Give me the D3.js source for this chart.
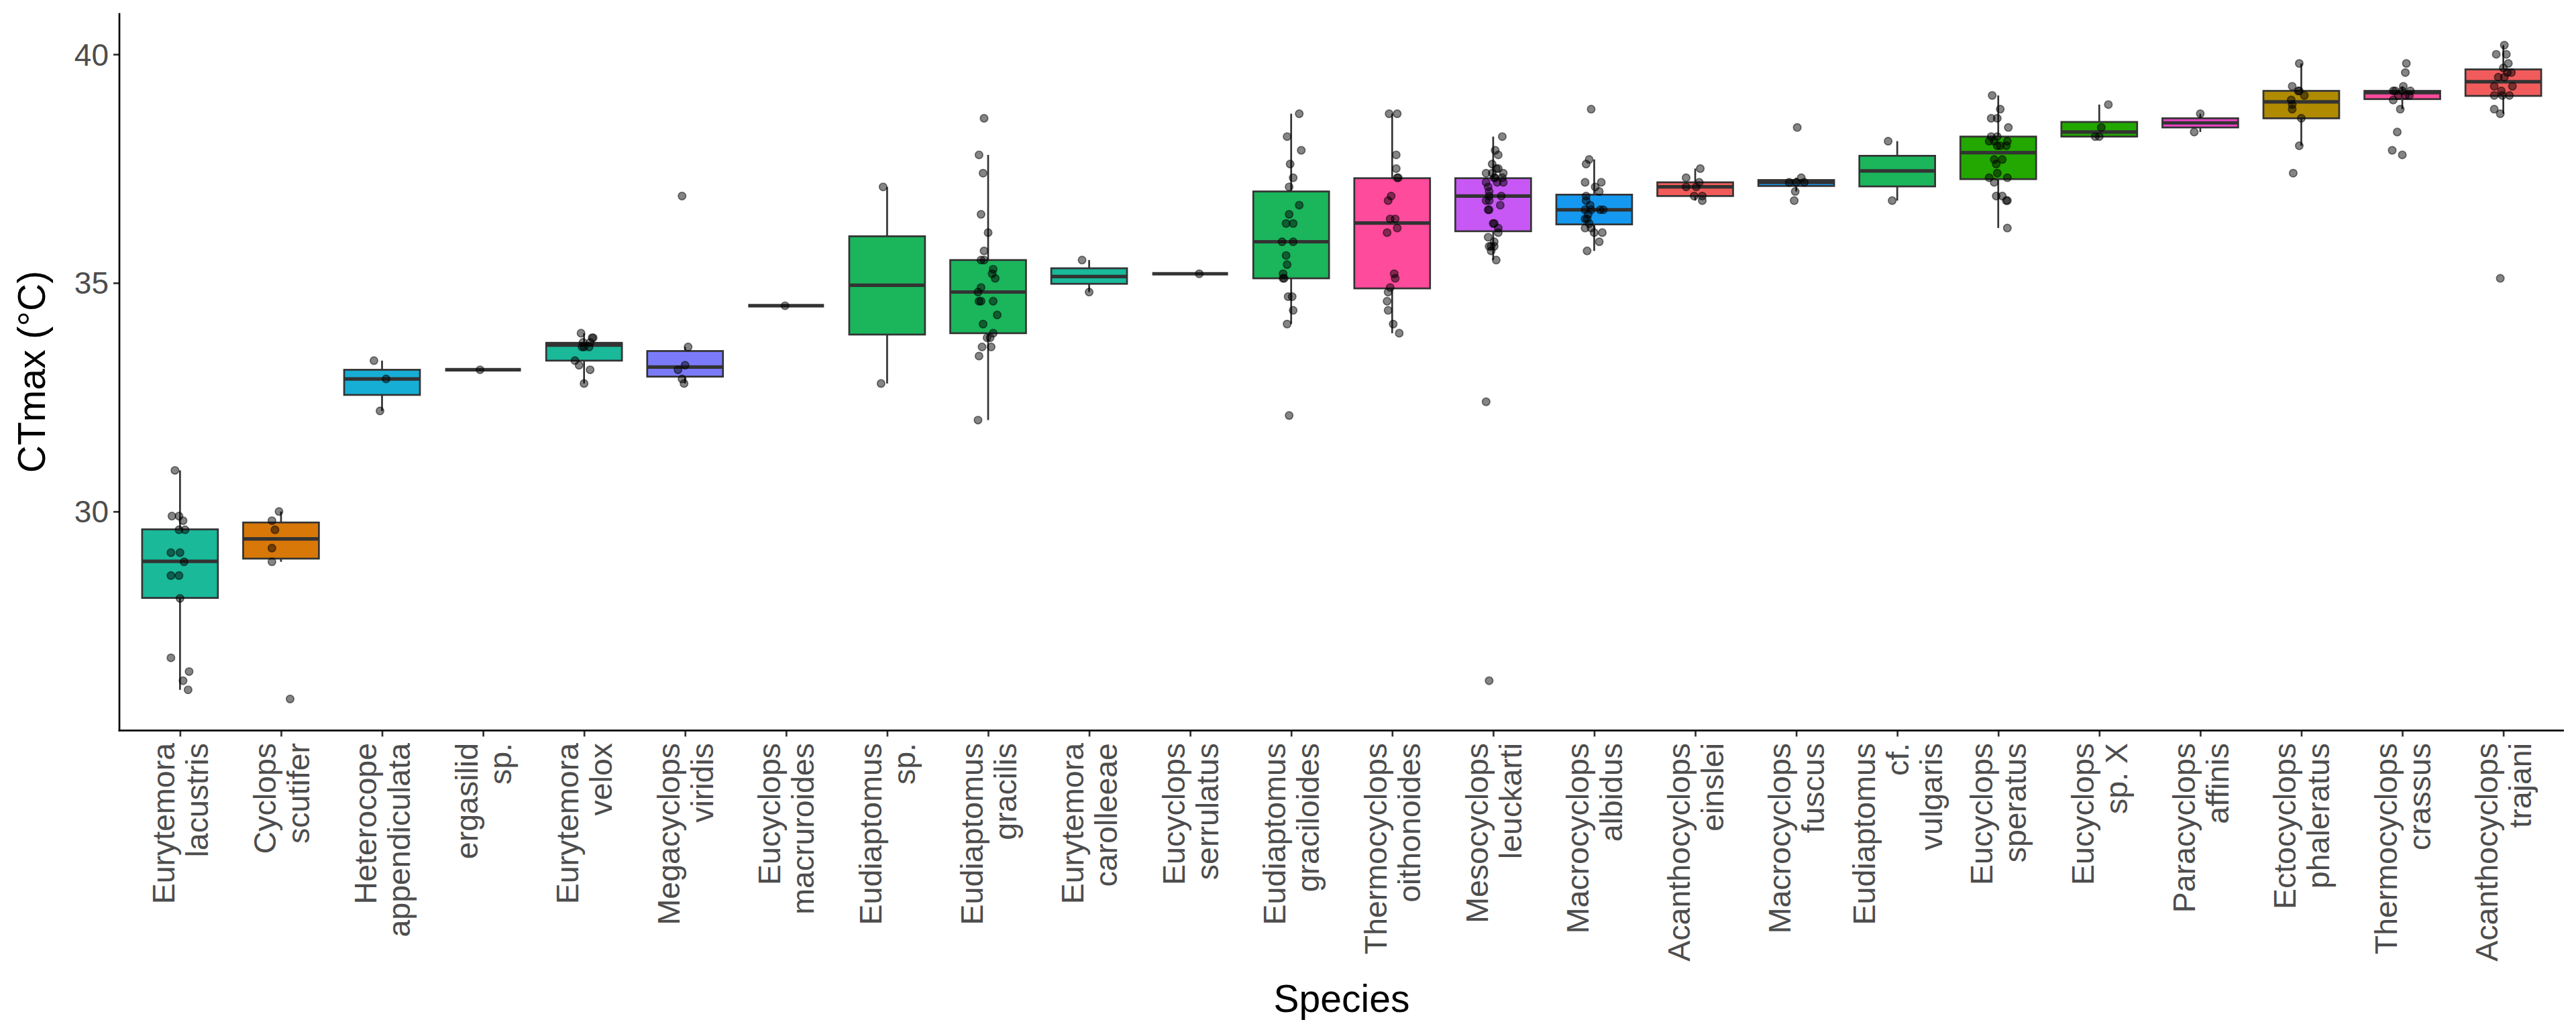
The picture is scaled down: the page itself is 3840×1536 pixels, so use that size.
<!DOCTYPE html>
<html><head><meta charset="utf-8">
<script src="https://cdn.jsdelivr.net/npm/d3@7"></script>
<style>body{margin:0;background:#fff}svg{display:block}</style>
</head><body><svg id="c" width="3840" height="1536"></svg>
<script>
const species = ["Eurytemora lacustris","Cyclops scutifer","Heterocope appendiculata","ergasilid sp.","Eurytemora velox","Megacyclops viridis","Eucyclops macruroides","Eudiaptomus sp.","Eudiaptomus gracilis","Eurytemora carolleeae","Eucyclops serrulatus","Eudiaptomus graciloides","Thermocyclops oithonoides","Mesocyclops leuckarti","Macrocyclops albidus","Acanthocyclops einslei","Macrocyclops fuscus","Eudiaptomus cf. vulgaris","Eucyclops speratus","Eucyclops sp. X","Paracyclops affinis","Ectocyclops phaleratus","Thermocyclops crassus","Acanthocyclops trajani"];
const tickLines = [["Eurytemora","lacustris"],["Cyclops","scutifer"],["Heterocope","appendiculata"],["ergasilid","sp."],["Eurytemora","velox"],["Megacyclops","viridis"],["Eucyclops","macruroides"],["Eudiaptomus","sp."],["Eudiaptomus","gracilis"],["Eurytemora","carolleeae"],["Eucyclops","serrulatus"],["Eudiaptomus","graciloides"],["Thermocyclops","oithonoides"],["Mesocyclops","leuckarti"],["Macrocyclops","albidus"],["Acanthocyclops","einslei"],["Macrocyclops","fuscus"],["Eudiaptomus","cf.","vulgaris"],["Eucyclops","speratus"],["Eucyclops","sp. X"],["Paracyclops","affinis"],["Ectocyclops","phaleratus"],["Thermocyclops","crassus"],["Acanthocyclops","trajani"]];
const genus = ["Eurytemora","Cyclops","Heterocope","ergasilid","Eurytemora","Megacyclops","Eucyclops","Eudiaptomus","Eudiaptomus","Eurytemora","Eucyclops","Eudiaptomus","Thermocyclops","Mesocyclops","Macrocyclops","Acanthocyclops","Macrocyclops","Eudiaptomus","Eucyclops","Eucyclops","Paracyclops","Ectocyclops","Thermocyclops","Acanthocyclops"];
const q1  = [28.11,28.97,32.55,33.1,33.30,32.95,34.5,33.87,33.90,34.98,35.2,35.10,34.88,36.13,36.28,36.90,37.12,37.11,37.27,38.20,38.40,38.60,39.02,39.09];
const med = [28.91,29.40,32.90,33.1,33.64,33.16,34.5,34.95,34.80,35.14,35.2,35.90,36.31,36.90,36.60,37.10,37.20,37.45,37.85,38.30,38.50,38.96,39.16,39.40];
const q3  = [29.61,29.76,33.10,33.1,33.69,33.51,34.5,36.02,35.50,35.32,35.2,37.00,37.29,37.29,36.93,37.20,37.25,37.78,38.20,38.52,38.60,39.20,39.20,39.67];
const lo  = [26.1,28.9,32.2,33.1,32.8,32.8,34.5,32.8,32.0,34.8,35.2,34.1,33.9,35.5,35.7,36.8,37.0,36.8,36.2,38.2,38.3,38.0,38.8,38.7];
const hi  = [30.9,30.0,33.3,33.1,33.9,33.6,34.5,37.1,37.8,35.5,35.2,38.7,38.7,38.2,37.7,37.5,37.3,38.1,39.1,38.9,38.7,39.8,39.3,40.2];
// observed points: [CTmax, horizontal jitter in category widths]
const points = [
 [[30.9,-0.05],[29.9,-0.08],[29.9,-0.01],[29.8,0.03],[29.6,-0.01],[29.6,0.05],[29.1,-0.09],[29.1,0.0],[28.9,0.04],[28.6,-0.09],[28.6,-0.01],[28.1,0.0],[26.8,-0.09],[26.5,0.09],[26.3,0.03],[26.1,0.08]],
 [[30.0,-0.02],[29.8,-0.09],[29.6,-0.06],[29.2,-0.09],[28.9,-0.09],[25.9,0.09]],
 [[33.3,-0.08],[32.9,0.04],[32.2,-0.02]],
 [[33.1,-0.03]],
 [[33.9,-0.03],[33.8,0.08],[33.8,0.09],[33.7,-0.01],[33.7,0.06],[33.6,-0.02],[33.6,0.05],[33.6,0.0],[33.3,-0.09],[33.2,-0.05],[33.1,0.06],[32.8,0.0]],
 [[36.9,-0.03],[33.6,0.03],[33.2,0.0],[33.1,-0.07],[32.9,-0.03],[32.8,-0.01]],
 [[34.5,-0.01]],
 [[37.1,-0.04],[32.8,-0.06]],
 [[38.6,-0.04],[37.8,-0.09],[37.4,-0.05],[36.5,-0.07],[36.1,0.0],[35.7,-0.04],[35.5,-0.07],[35.5,-0.04],[35.3,0.05],[35.2,0.04],[35.1,0.07],[34.9,-0.07],[34.8,-0.10],[34.6,-0.09],[34.6,-0.07],[34.6,0.05],[34.3,0.09],[34.1,-0.05],[33.9,0.05],[33.8,-0.01],[33.8,0.02],[33.6,-0.06],[33.6,0.03],[33.4,-0.09],[32.0,-0.10]],
 [[35.5,-0.07],[34.8,0.0]],
 [[35.2,0.09]],
 [[38.7,0.08],[38.2,-0.04],[37.9,0.10],[37.6,-0.01],[37.3,0.02],[37.1,-0.02],[36.7,0.08],[36.5,-0.02],[36.3,-0.05],[36.3,0.02],[35.9,-0.09],[35.9,0.02],[35.6,-0.05],[35.4,-0.04],[35.2,-0.08],[35.1,-0.08],[35.1,-0.07],[34.7,-0.03],[34.7,0.01],[34.4,0.02],[34.1,-0.04],[32.1,-0.02]],
 [[38.7,-0.03],[38.7,0.05],[37.8,0.04],[37.5,0.04],[37.3,0.05],[37.3,0.06],[36.9,-0.01],[36.8,-0.04],[36.4,-0.02],[36.4,0.03],[36.2,0.05],[36.1,-0.05],[35.2,0.02],[35.1,0.03],[34.9,-0.02],[34.8,-0.04],[34.6,-0.05],[34.4,-0.04],[34.1,0.01],[33.9,0.07]],
 [[38.2,0.09],[37.9,0.02],[37.8,0.05],[37.6,-0.01],[37.5,0.03],[37.5,0.05],[37.4,-0.07],[37.4,0.10],[37.4,-0.01],[37.3,0.02],[37.3,0.09],[37.3,0.01],[37.2,-0.07],[37.2,0.04],[37.2,0.10],[37.1,-0.05],[37.0,-0.04],[36.9,-0.04],[36.9,0.08],[36.8,-0.07],[36.8,-0.04],[36.7,0.07],[36.6,-0.04],[36.6,-0.05],[36.3,0.0],[36.3,0.01],[36.2,0.05],[36.1,0.05],[36.0,-0.05],[35.9,0.01],[35.8,-0.04],[35.8,-0.02],[35.8,0.01],[35.7,-0.02],[35.5,0.03],[32.4,-0.07],[26.3,-0.04]],
 [[38.8,-0.03],[37.7,-0.05],[37.6,-0.08],[37.2,-0.09],[37.2,0.07],[37.1,0.01],[37.0,0.05],[36.9,-0.08],[36.8,-0.08],[36.7,-0.04],[36.6,-0.09],[36.6,-0.03],[36.6,0.06],[36.6,0.09],[36.5,-0.06],[36.4,-0.07],[36.4,-0.09],[36.3,-0.05],[36.2,-0.09],[36.2,-0.03],[36.1,0.0],[36.1,0.08],[35.9,0.05],[35.7,-0.07]],
 [[37.5,0.05],[37.3,-0.09],[37.2,0.04],[37.1,-0.09],[37.1,0.01],[36.9,-0.01],[36.9,0.07],[36.8,0.07]],
 [[38.4,0.01],[37.3,0.05],[37.2,-0.07],[37.2,0.0],[37.2,0.08],[37.0,-0.01],[36.8,-0.02]],
 [[38.1,-0.09],[36.8,-0.05]],
 [[39.1,-0.06],[38.8,0.02],[38.6,-0.07],[38.6,-0.01],[38.4,0.10],[38.2,-0.07],[38.2,-0.01],[38.1,-0.09],[38.1,-0.04],[38.1,0.09],[38.0,-0.01],[38.0,0.02],[38.0,0.08],[37.7,-0.04],[37.7,0.04],[37.6,-0.02],[37.4,-0.01],[37.3,-0.09],[37.3,0.09],[37.2,-0.04],[36.9,-0.02],[36.9,0.04],[36.8,0.08],[36.8,0.09],[36.2,0.09]],
 [[38.9,0.09],[38.4,0.02],[38.2,-0.04],[38.2,0.0]],
 [[38.7,0.0],[38.3,-0.06]],
 [[39.8,-0.02],[39.3,-0.09],[39.2,-0.03],[39.2,-0.02],[39.1,0.03],[39.0,-0.10],[38.9,-0.09],[38.8,-0.09],[38.6,0.0],[38.0,-0.02],[37.4,-0.08]],
 [[39.8,0.04],[39.6,0.03],[39.3,0.01],[39.2,-0.09],[39.2,-0.07],[39.2,0.0],[39.2,0.08],[39.1,-0.04],[39.1,0.03],[39.1,0.07],[39.0,-0.09],[38.8,-0.02],[38.3,-0.05],[37.9,-0.10],[37.8,0.0]],
 [[40.2,0.01],[40.0,-0.07],[40.0,0.03],[39.8,0.05],[39.7,0.0],[39.6,0.08],[39.6,0.04],[39.5,-0.05],[39.5,0.01],[39.3,-0.09],[39.3,0.09],[39.2,-0.02],[39.1,-0.09],[39.1,-0.01],[39.1,0.06],[38.8,-0.09],[38.7,-0.03],[35.1,-0.03]]
];
const yTicks = [30, 35, 40];
const yDomain = [25.21, 40.90];

const palette = {Eurytemora:"#19B99A",Cyclops:"#D87808",Heterocope:"#17AED5",ergasilid:"#8E8E8E",Megacyclops:"#7B7BFA",Eucyclops:"#22A800",Eudiaptomus:"#1BB55C",Thermocyclops:"#FF4B9C",Mesocyclops:"#C858F5",Macrocyclops:"#1599F0",Acanthocyclops:"#F25B5B",Paracyclops:"#EE44C8",Ectocyclops:"#B08A00"};

const L = 178, R = 3822, T = 19.6, B = 1089.4;
const svg = d3.select("#c");
svg.append("rect").attr("width",3840).attr("height",1536).attr("fill","#fff");
const x = d3.scalePoint().domain(species).range([L, R]).padding(0.6);
const step = x.step();
const y = d3.scaleLinear().domain(yDomain).range([B, T]);
const bw = step * 0.75;
const font = "'Liberation Sans', Arial, Helvetica, sans-serif";
const lineCol = "#333333";

const g = svg.append("g");
species.forEach((s, i) => {
  const cx = x(s);
  const gi = g.append("g");
  gi.append("line").attr("x1",cx).attr("x2",cx).attr("y1",y(hi[i])).attr("y2",y(q3[i]))
    .attr("stroke",lineCol).attr("stroke-width",2.7);
  gi.append("line").attr("x1",cx).attr("x2",cx).attr("y1",y(q1[i])).attr("y2",y(lo[i]))
    .attr("stroke",lineCol).attr("stroke-width",2.7);
  gi.append("rect").attr("x",cx-bw/2).attr("width",bw)
    .attr("y",y(q3[i])).attr("height",Math.max(0,y(q1[i])-y(q3[i])))
    .attr("fill",palette[genus[i]]).attr("stroke",lineCol).attr("stroke-width",2.7);
  gi.append("line").attr("x1",cx-bw/2).attr("x2",cx+bw/2).attr("y1",y(med[i])).attr("y2",y(med[i]))
    .attr("stroke",lineCol).attr("stroke-width",5.2);
});
const pg = svg.append("g");
species.forEach((s, i) => {
  pg.selectAll(null).data(points[i]).enter().append("circle")
    .attr("cx", d => x(s) + d[1]*step)
    .attr("cy", d => y(d[0]))
    .attr("r", 5.7)
    .attr("fill","rgba(0,0,0,0.48)")
    .attr("stroke","rgba(0,0,0,0.5)")
    .attr("stroke-width",1.7);
});

// Axes
const yAxis = d3.axisLeft(y).tickValues(yTicks).tickSize(9).tickPadding(7).tickFormat(d3.format("d"));
const ya = svg.append("g").attr("transform",`translate(${L},0)`).call(yAxis);
ya.select(".domain").remove();
ya.append("line").attr("x1",0).attr("x2",0).attr("y1",T).attr("y2",B+1.3).attr("stroke","#000").attr("stroke-width",2.7);
ya.selectAll(".tick line").attr("stroke",lineCol).attr("stroke-width",2.7);
ya.selectAll(".tick text").attr("fill","#4D4D4D").attr("font-size",46).attr("font-family",font).attr("dy","0.35em");

const xAxis = d3.axisBottom(x).tickSize(9).tickFormat("");
const xa = svg.append("g").attr("transform",`translate(0,${B})`).call(xAxis);
xa.select(".domain").remove();
xa.append("line").attr("x1",L-1.3).attr("x2",R).attr("y1",0).attr("y2",0).attr("stroke","#000").attr("stroke-width",2.7);
xa.selectAll(".tick line").attr("stroke",lineCol).attr("stroke-width",2.7);

const fs = 46.5, pitch = 50, asc = 0.716*fs;
species.forEach((s, i) => {
  const lines = tickLines[i];
  const n = lines.length;
  const total = asc + (n-1)*pitch;
  const firstBase = x(s) - total/2 + asc;
  lines.forEach((ln, k) => {
    const bx = firstBase + k*pitch;
    svg.append("text").attr("transform",`translate(${bx},1108) rotate(-90)`)
      .attr("text-anchor","end").attr("font-family",font).attr("font-size",fs)
      .attr("fill","#4D4D4D").text(ln);
  });
});

svg.append("text").attr("x",(L+R)/2).attr("y",1509).attr("text-anchor","middle")
  .attr("font-family",font).attr("font-size",57).attr("fill","#000").text("Species");
svg.append("text").attr("transform",`translate(67,${(T+B)/2}) rotate(-90)`).attr("text-anchor","middle")
  .attr("font-family",font).attr("font-size",57).attr("fill","#000").text("CTmax (°C)");
</script></body></html>
